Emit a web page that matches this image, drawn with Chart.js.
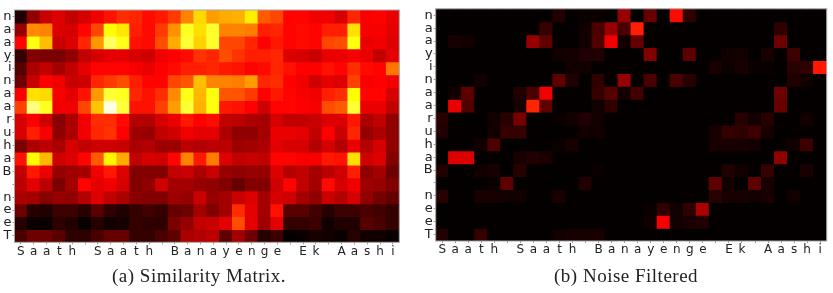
<!DOCTYPE html>
<html>
<head>
<meta charset="utf-8">
<title>Similarity matrix</title>
<script src="https://cdn.jsdelivr.net/npm/chart.js@4"></script>
<style>
    html, body { margin: 0; padding: 0; background: #fff; }
    #page { position: relative; width: 833px; height: 293px; overflow: hidden; }
    .panel { position: absolute; top: 0; height: 293px; }
    .caption {
        position: absolute; top: 265px; white-space: nowrap; color: #222;
        font: 19px "Liberation Serif", serif; letter-spacing: 0.5px;
    }
</style>
</head>
<body>
<div id="page">
    <div class="panel" style="left:0;width:416px"><canvas id="canvSim"></canvas></div>
    <div class="panel" style="left:420px;width:413px"><canvas id="canvNoise"></canvas></div>
    <div class="caption" style="left:112px">(a) Similarity Matrix.</div>
    <div class="caption" style="left:554px">(b) Noise Filtered</div>
</div>
<script>
    var columnas = ['S','a','a','t','h',' ','S','a','a','t','h',' ','B','a','n','a','y','e','n','g','e',' ','E','k',' ','A','a','s','h','i'];
    var filas = ['n','a','a','y','i','n','a','a','r','u','h','a','B',' ','n','e','e','T'];

    // one row per line, in percent of the colour range
    var similitud = [
        [4,20,28,31,27,30,34,39,43,42,38,40,45,56,69,60,62,63,72,50,47,37,37,34,34,30,42,35,36,33],
        [21,57,56,31,30,37,47,75,71,41,38,45,58,78,70,79,56,56,55,41,42,37,38,37,41,41,70,35,35,32],
        [37,76,65,28,31,42,59,84,77,39,38,48,62,80,68,79,47,47,42,36,40,37,38,37,47,48,76,33,34,31],
        [7,18,17,17,20,27,30,32,32,30,29,34,36,38,44,42,48,44,41,41,42,31,30,28,33,33,35,33,27,32],
        [12,24,27,23,27,32,37,37,37,35,33,36,38,41,41,42,40,39,37,38,42,39,36,36,39,37,43,38,37,54],
        [15,28,36,34,28,29,42,45,48,41,37,37,47,49,65,56,56,55,60,42,43,36,34,29,32,31,46,35,36,34],
        [35,70,69,35,32,39,59,80,78,42,39,43,57,77,64,76,49,49,45,36,40,37,35,34,41,43,75,37,37,30],
        [46,87,78,34,34,47,66,97,81,39,39,46,60,80,63,76,40,39,36,29,37,37,36,35,48,50,80,33,33,27],
        [30,36,29,19,24,34,43,43,38,25,25,30,33,40,36,38,27,26,24,23,30,27,27,28,31,31,40,24,27,20],
        [30,41,35,20,24,34,42,44,36,22,21,27,29,34,32,32,24,20,20,23,33,33,32,27,36,28,42,21,24,20],
        [17,24,26,24,30,27,29,29,28,24,25,22,22,26,25,26,26,22,23,24,32,30,30,25,30,25,33,25,30,20],
        [39,74,64,29,31,37,50,73,62,27,30,29,37,56,40,55,31,27,28,27,37,37,35,35,40,39,70,29,31,18],
        [27,40,33,21,22,23,34,40,31,18,18,18,27,28,24,28,21,20,21,21,31,25,27,23,26,29,41,20,23,15],
        [26,32,26,17,23,37,32,34,30,18,20,29,23,23,21,20,18,14,18,18,29,37,27,23,38,30,34,22,21,18],
        [24,23,19,21,20,25,31,27,24,19,18,18,22,21,28,21,23,28,31,23,30,29,23,20,28,25,30,20,16,14],
        [15,5,4,8,8,5,12,6,4,7,9,7,14,15,23,18,23,43,32,23,39,12,12,9,5,8,8,10,9,7],
        [5,1,1,6,4,1,5,2,3,7,6,6,17,21,27,28,32,48,32,22,32,7,7,8,2,4,4,12,10,7],
        [10,15,15,12,6,6,10,14,14,7,7,10,13,24,25,26,13,23,15,5,8,0,1,3,2,1,5,2,2,1]
    ];

    var ruido = [
        [0,0,0,0,0,0,0,0,0,4,0,1,1,0,21,0,14,0,38,6,0,0,0,0,0,0,0,0,0,0],
        [0,0,0,0,0,0,0,0,7,0,0,2,10,21,10,41,0,0,0,0,0,0,0,0,0,0,6,0,0,0],
        [0,3,2,0,0,0,0,21,13,0,0,2,11,34,2,14,0,0,0,0,0,0,0,0,0,0,15,0,0,0],
        [0,0,0,0,0,0,0,0,0,2,2,4,4,0,0,0,18,0,0,13,0,0,2,2,0,3,0,8,0,0],
        [0,0,0,0,0,0,0,0,0,0,2,2,0,0,0,0,0,0,0,0,0,3,1,3,1,1,0,5,6,40],
        [0,0,0,2,0,0,0,0,0,13,4,0,6,0,21,0,10,0,10,5,0,0,0,0,0,0,0,4,2,0],
        [0,2,13,0,0,0,4,10,34,0,0,0,7,12,2,9,0,0,0,0,0,0,0,0,0,0,15,0,0,0],
        [0,33,11,0,0,0,3,42,13,0,0,0,2,6,0,0,0,0,0,0,0,0,0,0,0,0,14,0,0,0],
        [5,0,0,0,2,5,16,0,0,1,2,4,2,0,0,0,0,0,0,0,0,0,0,5,2,5,0,0,2,0],
        [4,0,0,0,2,7,7,0,0,0,0,2,2,0,0,0,0,0,0,0,0,3,7,6,8,3,0,0,0,0],
        [0,0,0,2,10,0,0,0,0,1,3,0,0,0,0,0,0,0,0,0,0,3,3,3,2,0,0,2,8,0],
        [0,31,31,0,0,0,3,4,3,0,0,0,0,0,0,0,0,0,0,0,0,0,0,0,0,0,20,0,0,0],
        [4,0,0,2,3,0,5,0,0,0,0,0,1,0,0,0,0,0,0,0,0,0,4,2,0,7,0,0,3,0],
        [0,0,0,0,1,13,0,0,0,0,0,4,0,0,0,0,0,0,0,0,0,13,2,0,13,3,0,0,0,0],
        [5,0,0,3,3,2,2,0,0,3,0,0,0,0,0,0,0,0,0,0,0,5,3,3,2,3,0,2,0,0],
        [0,0,0,0,0,0,0,0,0,0,0,0,0,0,0,0,1,6,2,6,24,0,0,0,0,0,0,0,0,0],
        [0,0,0,0,0,0,0,0,0,0,0,0,0,0,0,0,2,35,2,3,4,0,0,0,0,0,0,0,0,0],
        [4,0,0,7,0,0,0,0,0,2,3,3,3,0,0,0,0,0,0,0,0,0,0,0,0,0,0,0,0,0]
    ];

    // "hot" colour ramp, black through red and yellow to white
    function colorHot(v) {
        var p = v / 100;
        var r = Math.min(1, 0.016 + p / 0.365);
        var g = Math.max(0, Math.min(1, (p - 0.365) / 0.381));
        var b = Math.max(0, Math.min(1, (p - 0.746) / 0.254));
        return 'rgb(' + Math.round(r * 255) + ',' + Math.round(g * 255) + ',' + Math.round(b * 255) + ')';
    }

    // each row is a dataset of floating bars from r to r+1
    function datasetsFilas(matriz) {
        return matriz.map(function (fila, r) {
            return {
                data: fila.map(function () { return [r, r + 1]; }),
                backgroundColor: fila.map(colorHot),
                barPercentage: 1,
                categoryPercentage: 1,
                grouped: false,
                inflateAmount: 0.6
            };
        });
    }

    var marco = {
        id: 'marco',
        afterDraw: function (chart) {
            var a = chart.chartArea, ctx = chart.ctx;
            ctx.save();
            ctx.strokeStyle = '#a8a4a4';
            ctx.lineWidth = 1;
            ctx.strokeRect(a.left, a.top, a.right - a.left, a.bottom - a.top);
            ctx.restore();
        }
    };

    function crearGrafico(id, matriz, ancho, caja) {
        var canv = document.getElementById(id);
        canv.style.width = ancho + 'px';
        canv.style.height = '293px';
        return new Chart(canv, {
            type: 'bar',
            data: { labels: columnas, datasets: datasetsFilas(matriz) },
            plugins: [marco],
            options: {
                responsive: false,
                animation: false,
                devicePixelRatio: 1,
                layout: { padding: { left: 0, top: caja.top, right: ancho - caja.right, bottom: 293 - caja.bottom - 16 } },
                plugins: { legend: { display: false }, tooltip: { enabled: false } },
                scales: {
                    x: {
                        type: 'category',
                        grid: { offset: false, drawOnChartArea: false, drawTicks: true, tickLength: 2, tickColor: '#999' },
                        border: { display: false },
                        ticks: { autoSkip: false, maxRotation: 0, padding: 0, color: '#222', font: { family: 'DejaVu Sans', size: 12 } },
                        afterFit: function (s) { s.height = 16; }
                    },
                    y: {
                        type: 'linear',
                        min: 0,
                        max: filas.length,
                        reverse: true,
                        grid: { drawOnChartArea: false, drawTicks: true, tickLength: 2, tickColor: '#999' },
                        border: { display: false },
                        afterBuildTicks: function (s) {
                            s.ticks = filas.map(function (f, i) { return { value: i + 0.5 }; });
                        },
                        ticks: {
                            autoSkip: false,
                            padding: 1,
                            color: '#222',
                            font: { family: 'DejaVu Sans', size: 13 },
                            callback: function (v) { return filas[v - 0.5]; }
                        },
                        afterFit: function (s) { s.width = caja.left; }
                    }
                }
            }
        });
    }

    crearGrafico('canvSim', similitud, 416, { left: 14.5, top: 10, right: 399.3, bottom: 242.3 });
    crearGrafico('canvNoise', ruido, 413, { left: 15.7, top: 6, right: 406.7, bottom: 241 });
</script>
</body>
</html>
